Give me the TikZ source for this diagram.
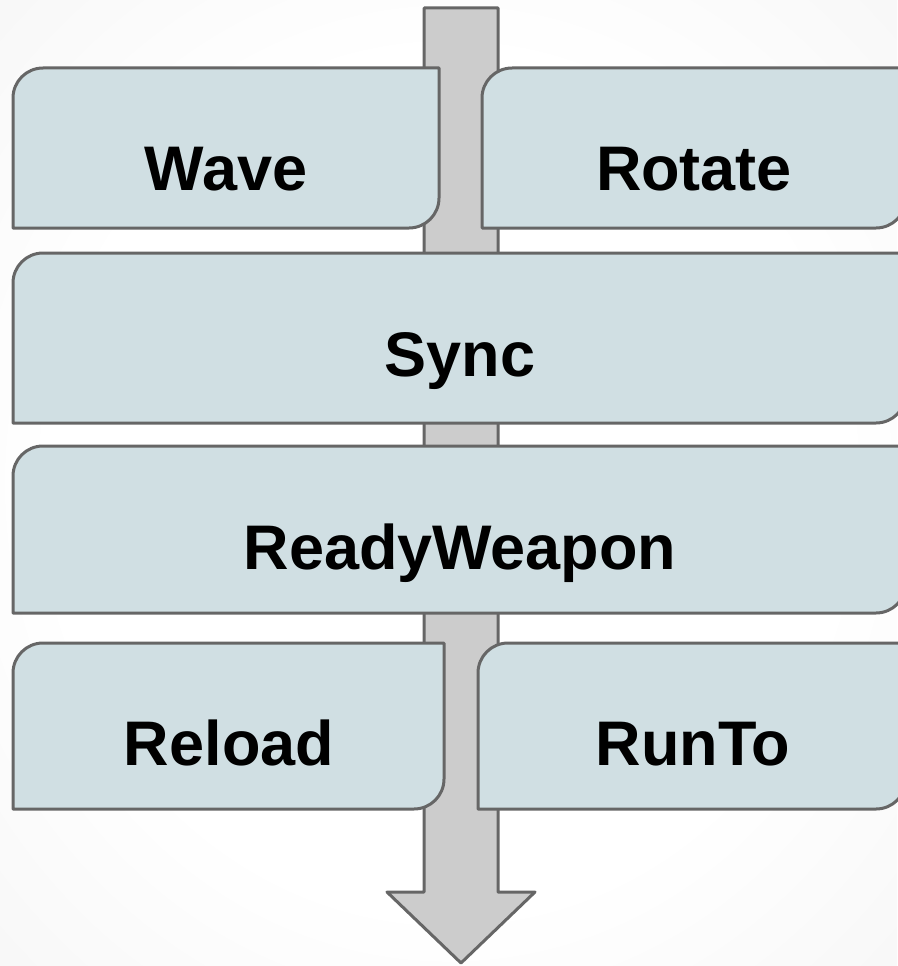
\documentclass[tikz,border=0pt]{standalone}
\usepackage{fontspec}
\setmainfont{Liberation Sans}
\definecolor{boxfill}{HTML}{D0DFE3}
\definecolor{edge}{HTML}{666666}
\definecolor{shaft}{HTML}{CCCCCC}
% soft backdrop: white middle fading to pale grey in the corners
\pgfdeclareradialshading{backglow}{\pgfpoint{0bp}{0bp}}{%
  color(0bp)=(white); color(22bp)=(white); color(50bp)=(black!6);
  color(71bp)=(black!10); color(100bp)=(black!10)}
\tikzset{
  outline/.style={draw=edge, line width=3pt, line join=round},
  leaf/.style={outline, fill=boxfill},
  label/.style={anchor=base, inner sep=0pt, font=\bfseries\fontsize{63}{75}\selectfont, text=black}
}
% leaf-shaped box: rounded top-left and bottom-right corners
% #1,#2 = left, top ; #3,#4 = right, bottom
\newcommand\leafbox[4]{%
  \path[leaf] (#1,#4) -- (#1,#2+30) arc[start angle=180, end angle=270, radius=30]
    -- (#3,#2) -- (#3,#4-30) arc[start angle=0, end angle=90, radius=30] -- cycle;}
\begin{document}
\begin{tikzpicture}[x=1pt, y=-1pt]
  \useasboundingbox (0,0) rectangle (897,966);
  \shade[shading=backglow] (0,0) rectangle (897,966);

  % the flow arrow running down behind the steps
  \path[outline, fill=shaft] (424,8) -- (498,8) -- (498,892) -- (535,892)
    -- (461,963) -- (387,892) -- (424,892) -- cycle;

  % steps
  \leafbox{13}{68}{439}{228}
  \leafbox{482}{68}{906}{228}
  \leafbox{13}{253}{906}{423}
  \leafbox{13}{446}{906}{613}
  \leafbox{13}{643}{444}{809}
  \leafbox{478}{643}{906}{809}

  \node[label] (wave)   at (226,190) {Wave};
  \node[label] (rotate) at (694,190) {Rotate};
  \node[label] (sync)   at (460,376) {Sync};
  \node[label] (ready)  at (460,569) {ReadyWeapon};
  \node[label] (reload) at (229,765) {Reload};
  \node[label] (runto)  at (693,765) {RunTo};
\end{tikzpicture}
\end{document}
